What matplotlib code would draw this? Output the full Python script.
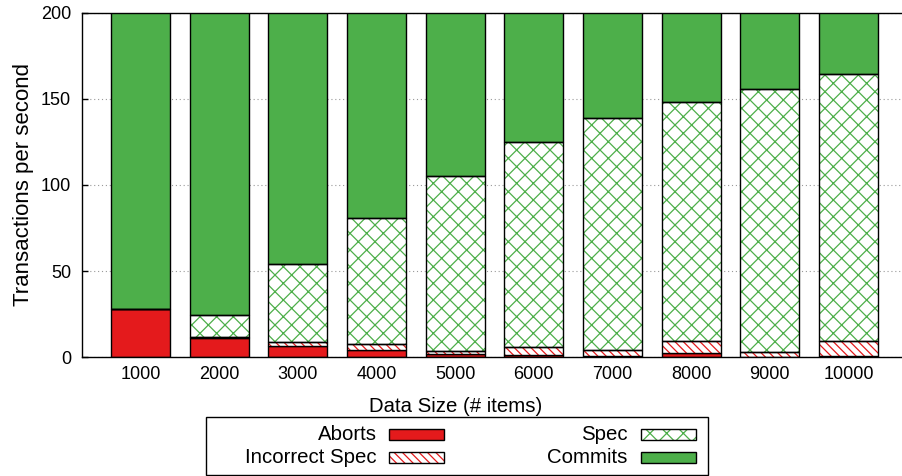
import numpy as np
import matplotlib
matplotlib.use("Agg")
import matplotlib.pyplot as plt
from matplotlib.patches import Rectangle

plt.rcParams['font.family'] = ['Liberation Sans', 'DejaVu Sans']
plt.rcParams['hatch.linewidth'] = 0.9

# transactions per second, stacked per data size
sizes = ['1000', '2000', '3000', '4000', '5000', '6000', '7000', '8000', '9000', '10000']
aborts = [27.8, 11.2, 6.8, 4.3, 2.0, 1.4, 0.8, 2.6, 0.3, 0.5]
incorrect_spec = [0.5, 0.6, 2.3, 3.5, 1.8, 4.8, 3.5, 6.7, 2.8, 9.1]
spec = [0.0, 12.9, 44.9, 73.2, 101.2, 118.8, 134.7, 138.7, 152.4, 154.9]
commits = [185.0, 190.0, 160.0, 135.0, 110.0, 90.0, 75.0, 70.0, 60.0, 55.0]

red = '#e41a1c'
green = '#4daf4a'

fig = plt.figure(figsize=(9.02, 4.76), dpi=100)
W, H = 902, 476
ax = fig.add_axes([82.3 / W, 1 - 357.3 / H, 826 / W, 344.6 / H])

x = np.arange(len(sizes))
w = 0.75
b0 = np.zeros(len(sizes))
b1 = b0 + np.array(aborts)
b2 = b1 + np.array(incorrect_spec)
b3 = b2 + np.array(spec)

ax.bar(x, aborts, w, bottom=b0, color=red, edgecolor='black', linewidth=1.0, zorder=3)
# hatched segments: hatch drawn in edge colour, outline drawn on top in black
ax.bar(x, incorrect_spec, w, bottom=b1, color='white', edgecolor=red,
       hatch='\\\\\\\\', linewidth=0, zorder=3)
ax.bar(x, incorrect_spec, w, bottom=b1, color='none', edgecolor='black', linewidth=1.0, zorder=4)
ax.bar(x, spec, w, bottom=b2, color='white', edgecolor=green,
       hatch='xx', linewidth=0, zorder=3)
ax.bar(x, spec, w, bottom=b2, color='none', edgecolor='black', linewidth=1.0, zorder=4)
ax.bar(x, commits, w, bottom=b3, color=green, edgecolor='black', linewidth=1.0, zorder=3)

ax.set_xlim(-0.74, 9.76)
ax.set_ylim(0, 200)
ax.set_yticks([0, 50, 100, 150, 200])
ax.set_xticks(x)
ax.set_xticklabels(sizes)
ax.tick_params(axis='y', direction='in', length=4, width=1, labelsize=13, pad=8)
ax.tick_params(axis='x', length=0, labelsize=13, pad=6)
ax.yaxis.grid(True, linestyle=(0, (1, 2.5)), color='#999999', linewidth=0.8, zorder=0)
ax.set_axisbelow(True)
for s in ax.spines.values():
    s.set_linewidth(1.0)
    s.set_zorder(5)

ax.set_xlabel('Data Size (# items)', fontsize=14.7)
ax.xaxis.set_label_coords(0.452, -0.115)
ax.set_ylabel('Transactions per second', fontsize=16, labelpad=5)

# legend box, gnuplot style: label on the left, sample on the right
box = Rectangle((205.7 / W, 1 - 474.7 / H), (708 - 205.7) / W, (474.7 - 417) / H,
                transform=fig.transFigure, facecolor='white', edgecolor='black', linewidth=1.0)
fig.add_artist(box)
entries = [
    ('Aborts', 376.7, 389, 434.5, dict(facecolor=red, edgecolor='black')),
    ('Incorrect Spec', 376.7, 389, 457.2, dict(facecolor='white', edgecolor=red, hatch='\\\\\\\\')),
    ('Spec', 627.7, 641, 434.5, dict(facecolor='white', edgecolor=green, hatch='xx')),
    ('Commits', 627.7, 641, 457.2, dict(facecolor=green, edgecolor='black')),
]
for label, tx, hx, yc, style in entries:
    fig.text(tx / W, 1 - yc / H, label, ha='right', va='center', fontsize=14.7)
    r = Rectangle((hx / W, 1 - (yc + 5.5) / H), 55 / W, 11 / H,
                  transform=fig.transFigure, linewidth=1.0 if 'hatch' not in style else 0, **style)
    fig.add_artist(r)
    if 'hatch' in style:
        fig.add_artist(Rectangle((hx / W, 1 - (yc + 5.5) / H), 55 / W, 11 / H,
                                 transform=fig.transFigure, facecolor='none',
                                 edgecolor='black', linewidth=1.0))

fig.savefig('out.png', dpi=100)
